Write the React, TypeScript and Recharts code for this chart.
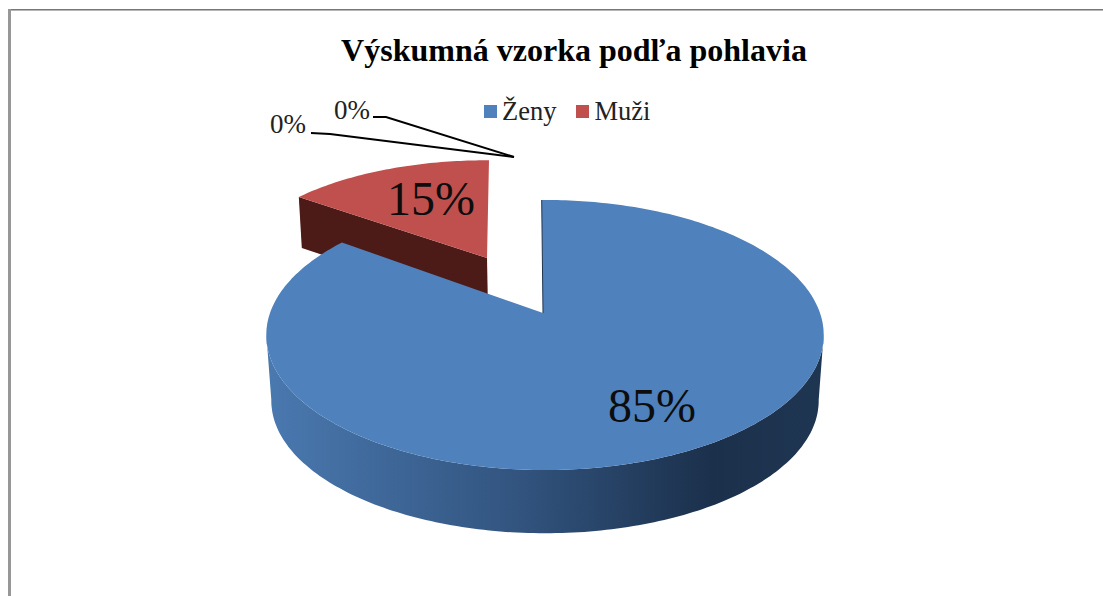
import React from "react";
import { PieChart, Pie, Legend } from "recharts";

// Data (drawing order: the back slice first, so the large front slice covers its wall)
const categories = ["Muži", "", "", "Ženy"];
const values = [15, 0, 0, 85];
const colours = ["#c0504d", "#9bbb59", "#8064a2", "#4f81bd"];
const title = "Výskumná vzorka podľa pohlavia";
const tableData = categories.map((name, i) => ({ name, value: values[i], fill: colours[i] }));

const W = 1103;
const H = 596;
const SERIF = "'Liberation Serif', 'Times New Roman', serif";
const K = 0.163; // perspective strength
const G = 0.478; // vertical squash

type Pt = [number, number];
const project = (ax: number, ay: number, f: number, clock: number, g: number = G): Pt => {
  const r = (clock * Math.PI) / 180;
  const X = Math.sin(r);
  const Y = -Math.cos(r);
  const w = 1 - K * Y;
  return [ax + (f * X) / w, ay + (f * g * Y) / w];
};
const arc = (ax: number, ay: number, f: number, c0: number, c1: number, g: number = G): Pt[] => {
  const n = Math.max(2, Math.ceil(Math.abs(c1 - c0)));
  const pts: Pt[] = [];
  for (let i = 0; i <= n; i++) pts.push(project(ax, ay, f, c0 + ((c1 - c0) * i) / n, g));
  return pts;
};
const d = (pts: Pt[]) => "M" + pts.map((p) => `${p[0].toFixed(1)},${p[1].toFixed(1)}`).join("L") + "Z";

const Slice = (props: any) => {
  const { cx, cy, outerRadius, startAngle, endAngle, fill, value, name } = props;
  if (!value) return <g />;
  const c0 = 90 - startAngle;
  const c1 = 90 - endAngle;
  if (name === "Muži") {
    const ax = cx - 58;
    const ay = cy - 55;
    const f = outerRadius * 0.927;
    const g = 0.446;
    const top = arc(ax, ay, f, c0, c1, g);
    const outer = project(ax, ay, f, c0, g);
    const wall: Pt[] = [[ax, ay], outer, [outer[0] + 3, outer[1] + 51], [ax + 1, ay + 52]];
    return (
      <g>
        <path d={d(wall)} fill="#4c1b18" />
        <path d={d([[ax, ay], ...top, [ax + 2, top[top.length - 1][1]]])} fill="#c0504d" />
      </g>
    );
  }
  const top = arc(cx, cy, outerRadius, c0, c1);
  const frontTop = arc(cx, cy, outerRadius, 99, 261);
  const frontBot = arc(cx, cy + 66, outerRadius * 0.982, 261, 99);
  const rim = project(cx, cy, outerRadius, c0);
  const notchTop: Pt = [rim[0] - 3.3, rim[1]];
  const notchApex: Pt = [cx - 2, cy];
  return (
    <g>
      <path d={d([...frontTop, ...frontBot])} fill="url(#wallGradient)" />
      <path d={d([notchApex, notchTop, ...top])} fill={fill} />
      <path d={`M${notchTop[0]},${notchTop[1]}L${notchApex[0]},${notchApex[1]}`} stroke="#1f3551" strokeWidth={1} fill="none" />
    </g>
  );
};

const renderLabel = (props: any) => {
  const { cx, cy, index, value } = props;
  const big: Record<number, Pt> = { 0: [-114, -115], 3: [107, 92] };
  const leader: Record<number, { text: Pt; line: Pt[] }> = {
    1: { text: [-257, -189], line: [[-234, -180], [-215, -179], [-31, -156]] },
    2: { text: [-193, -203], line: [[-172, -196], [-159, -196], [-31, -156]] },
  };
  if (big[index]) {
    return (
      <text x={cx + big[index][0]} y={cy + big[index][1]} textAnchor="middle" dominantBaseline="central"
        fontFamily={SERIF} fontSize={48} fill="#0d0d0d">{`${value}%`}</text>
    );
  }
  const l = leader[index];
  return (
    <g>
      <text x={cx + l.text[0]} y={cy + l.text[1]} textAnchor="middle" dominantBaseline="central"
        fontFamily={SERIF} fontSize={27} fill="#222">{`${value}%`}</text>
      <polyline points={l.line.map((p) => `${cx + p[0]},${cy + p[1]}`).join(" ")} fill="none" stroke="#000" strokeWidth={2} />
    </g>
  );
};

const renderLegend = (props: any) => {
  const items = (props.payload || []).filter((e: any) => e.value).reverse();
  return (
    <div style={{ display: "flex", fontFamily: SERIF, fontSize: 26.5, color: "#222", lineHeight: "30px" }}>
      {items.map((e: any) => (
        <div key={e.value} style={{ display: "flex", alignItems: "center", marginRight: 20 }}>
          <span style={{ width: 13, height: 13, background: e.color, marginRight: 5, display: "inline-block" }} />
          <span>{e.value}</span>
        </div>
      ))}
    </div>
  );
};

export default function App() {
  return (
    <div style={{ position: "absolute", left: 0, top: 0, width: W, height: H, overflow: "hidden", background: "#fff" }}>
      <div style={{ position: "absolute", left: 8, top: 9, width: W - 8, height: 1, background: "#777" }} />
      <div style={{ position: "absolute", left: 8, top: 10, width: W - 8, height: 1, background: "#b5b5b5" }} />
      <div style={{ position: "absolute", left: 8, top: 9, width: 3, height: H, background: "#979797" }} />
      <PieChart width={W} height={H} margin={{ top: 0, right: 0, bottom: 0, left: 0 }} style={{ position: "absolute", left: 0, top: 0 }}>
        <defs>
          <linearGradient id="wallGradient" x1="0" y1="0" x2="1" y2="0">
            <stop offset="0" stopColor="#4a79b0" />
            <stop offset="0.45" stopColor="#32547f" />
            <stop offset="0.8" stopColor="#1b304b" />
            <stop offset="1" stopColor="#1f3652" />
          </linearGradient>
        </defs>
        <text x={574} y={50} textAnchor="middle" dominantBaseline="central" fontFamily={SERIF} fontWeight="bold"
          fontSize={32} fill="#000">{title}</text>
        <Legend content={renderLegend} verticalAlign="middle"
          wrapperStyle={{ left: 484, top: 96, width: 300 }} />
        <Pie data={tableData} dataKey="value" nameKey="name" cx={545} cy={313} innerRadius={0} outerRadius={275}
          startAngle={144} endAngle={-216} stroke="none" isAnimationActive={false}
          shape={Slice} label={renderLabel} labelLine={false} />
      </PieChart>
    </div>
  );
}
